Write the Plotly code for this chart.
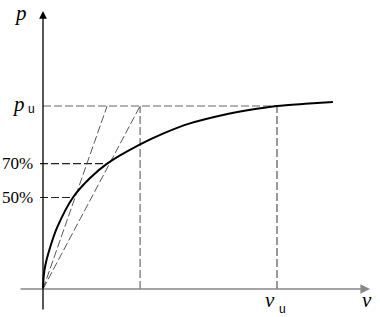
import plotly.graph_objects as go

# Data (normalised: v_u = 1, p_u = 1)
curve_v = [0.0, 0.003, 0.010, 0.030, 0.060, 0.128, 0.200, 0.274, 0.415, 0.520, 0.628, 0.769, 0.880, 1.0, 1.12, 1.239]
curve_p = [0.0, 0.070, 0.130, 0.225, 0.335, 0.500, 0.605, 0.685, 0.790, 0.853, 0.905, 0.951, 0.978, 1.0, 1.012, 1.022]
v_u = 1.0
p_u = 1.0
pct_levels = [0.5, 0.685]       # 50% / 70% lines as drawn
pct_labels = ["50%", "70%"]
pct_v = [0.128, 0.274]          # where the curve reaches 50% / 70%
secant_end_v = [0.274, 0.415]   # where the secants reach p_u

# pixel mapping: origin at (43,289), 234 px per v unit, 183 px per p unit
W, H = 380, 317
ox, oy, sx, sy = 43, 289, 234, 183
xr = [(0 - ox) / sx, (W - ox) / sx]
yr = [(oy - H) / sy, oy / sy]

def px_x(px):
    return (px - ox) / sx

def px_y(py):
    return (oy - py) / sy

fig = go.Figure()

def dline(xs, ys, col="#555555", w=1.1):
    fig.add_trace(go.Scatter(x=xs, y=ys, mode="lines", line=dict(color=col, width=w, dash="8px,3px"),
                             hoverinfo="skip", showlegend=False))

# horizontal p_u line
dline([0, v_u], [p_u, p_u], col="#666666")
# vertical lines
dline([v_u, v_u], [0, p_u], col="#444444")
dline([secant_end_v[1], secant_end_v[1]], [0, p_u], col="#777777", w=1.3)
# percent levels
left = px_x(40)
for lv, pv in zip(pct_levels, pct_v):
    dline([left, pv], [lv, lv], col="#222222")
# secants
for ev in secant_end_v:
    dline([0, ev], [0, p_u], col="#444444", w=0.9)

# main curve
fig.add_trace(go.Scatter(x=curve_v, y=curve_p, mode="lines", line=dict(color="black", width=2, shape="spline", smoothing=0.8),
                         hoverinfo="skip", showlegend=False))

# axes
fig.add_annotation(x=px_x(370), y=0, ax=px_x(19), ay=0, xref="x", yref="y", axref="x", ayref="y",
                   showarrow=True, arrowhead=2, arrowsize=1.2, arrowwidth=1.6, arrowcolor="#888888", text="")
fig.add_annotation(x=0, y=px_y(11), ax=0, ay=px_y(311), xref="x", yref="y", axref="x", ayref="y",
                   showarrow=True, arrowhead=2, arrowsize=1.2, arrowwidth=1.3, arrowcolor="black", text="")

serif = "Liberation Serif"
# labels
fig.add_annotation(x=px_x(20), y=px_y(13), text="<i>p</i>", showarrow=False,
                   font=dict(family=serif, size=21, color="black"))
fig.add_annotation(x=px_x(367), y=px_y(300), text="<i>v</i>", showarrow=False,
                   font=dict(family=serif, size=21, color="black"))
fig.add_annotation(x=px_x(27), y=px_y(104), text="<i>p</i>", showarrow=False, xanchor="right",
                   font=dict(family=serif, size=21, color="black"))
fig.add_annotation(x=px_x(37), y=px_y(109), text="u", showarrow=False, xanchor="right",
                   font=dict(family="Liberation Sans", size=12, color="black"))
fig.add_annotation(x=px_x(270), y=px_y(300), text="<i>v</i>", showarrow=False,
                   font=dict(family=serif, size=21, color="black"))
fig.add_annotation(x=px_x(282), y=px_y(309), text="u", showarrow=False,
                   font=dict(family="Liberation Sans", size=12, color="black"))
for lv, lb in zip(pct_levels, pct_labels):
    fig.add_annotation(x=px_x(35), y=lv, text=lb, showarrow=False, xanchor="right",
                       font=dict(family=serif, size=17, color="black"))

fig.update_layout(width=W, height=H, margin=dict(l=0, r=0, t=0, b=0),
                  plot_bgcolor="white", paper_bgcolor="white",
                  xaxis=dict(range=xr, visible=False, fixedrange=True),
                  yaxis=dict(range=yr, visible=False, fixedrange=True))
fig.write_html("out.html", config={"displayModeBar": False})
